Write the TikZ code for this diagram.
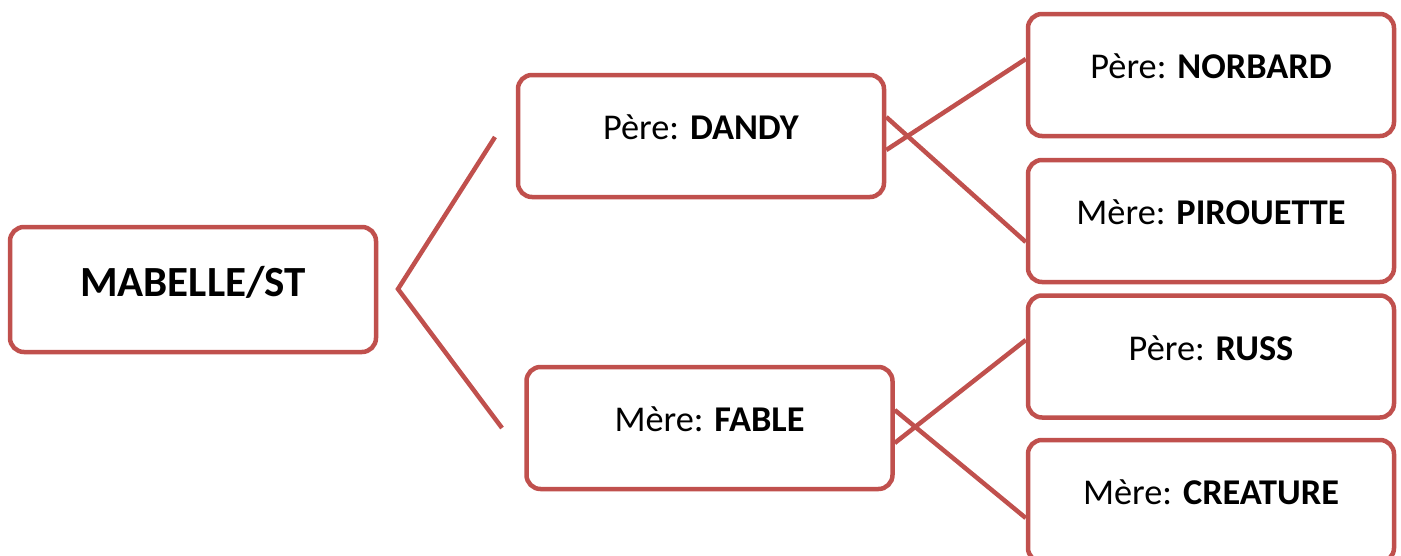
\documentclass[tikz,border=0pt]{standalone}
\usepackage{fontspec}
\setmainfont{Carlito}
\definecolor{boxred}{HTML}{C0504D}
\begin{document}
\begin{tikzpicture}[x=1pt,y=-1pt,
  famille/.style={draw=boxred, line width=4.5pt, rounded corners=14pt, fill=white,
    minimum width=366pt, minimum height=122pt, inner sep=0pt,
    font=\fontsize{36.3}{41}\selectfont, text height=24pt, text depth=17pt},
  racine/.style={famille, minimum height=125pt,
    font=\fontsize{43}{48}\selectfont\bfseries, text height=28pt, text depth=14.5pt},
  lien/.style={draw=boxred, line width=4.5pt}]
\useasboundingbox (0,0) rectangle (1401,555);
\coordinate (v) at (398,289);
\coordinate (ha) at (495,137);
\coordinate (hb) at (502,428);
\node[racine] (mab) at (193,289.5) {MABELLE/ST};
\node[famille] (dandy) at (701,136) {Père: \textbf{DANDY}};
\node[famille] (fable) at (709.5,428) {Mère: \textbf{FABLE}};
\node[famille] (norbard) at (1211,75) {Père: \textbf{NORBARD}};
\node[famille] (pirouette) at (1211,221) {Mère: \textbf{PIROUETTE}};
\node[famille] (russ) at (1211,356.5) {Père: \textbf{RUSS}};
\node[famille] (creature) at (1211,501) {Mère: \textbf{CREATURE}};
\draw[lien] (ha) -- (v) -- (hb);
\draw[lien] ([yshift=-14pt]dandy.east) -- ([yshift=16pt]norbard.west);
\draw[lien] ([yshift=19pt]dandy.east) -- ([yshift=-21pt]pirouette.west);
\draw[lien] ([yshift=-15pt]fable.east) -- ([yshift=16.5pt]russ.west);
\draw[lien] ([yshift=18pt]fable.east) -- ([yshift=-17pt]creature.west);
\end{tikzpicture}
\end{document}
